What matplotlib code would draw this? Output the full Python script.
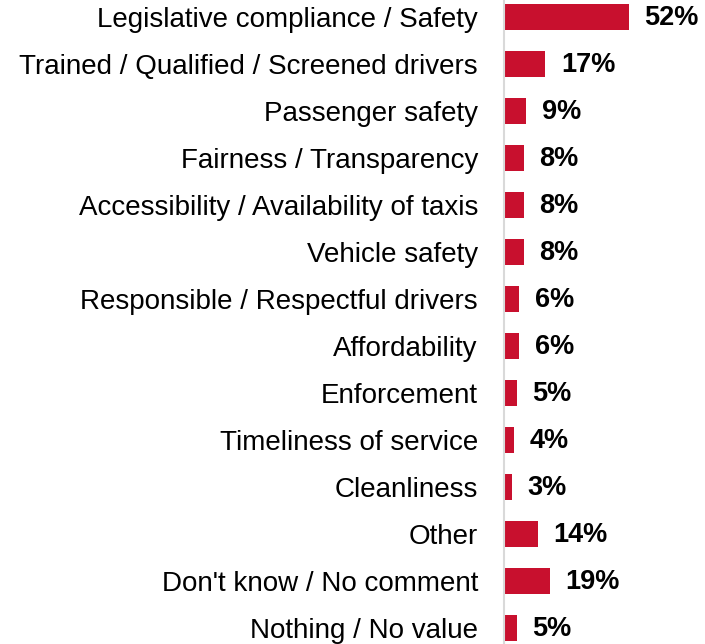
import matplotlib.pyplot as plt

# Response categories and share of respondents (%)
categories = [
    "Legislative compliance / Safety",
    "Trained / Qualified / Screened drivers",
    "Passenger safety",
    "Fairness / Transparency",
    "Accessibility / Availability of taxis",
    "Vehicle safety",
    "Responsible / Respectful drivers",
    "Affordability",
    "Enforcement",
    "Timeliness of service",
    "Cleanliness",
    "Other",
    "Don't know / No comment",
    "Nothing / No value",
]
values = [52, 17, 9, 8, 8, 8, 6, 6, 5, 4, 3, 14, 19, 5]
value_labels = [str(v) + "%" for v in values]

plt.rcParams['font.family'] = ['Liberation Sans', 'DejaVu Sans']

fig = plt.figure(figsize=(7.05, 6.44), dpi=100)
ax = fig.add_axes([504 / 705, 0, 201 / 705, 1])

pos = list(range(len(categories)))
ax.barh(pos, values, height=0.55, color='#C8102E', left=0.3)

for p, v, lab in zip(pos, values, value_labels):
    ax.text(v + 0.3 + 6.5, p + 0.03, lab, va='center', ha='left',
            fontsize=19.5, fontweight='bold', color='black')

ax.set_xlim(0, 201 / 2.385)
ax.set_ylim(13 + 16 / 47, -17 / 47)

ax.set_yticks(pos)
ax.set_yticklabels(categories, fontsize=20, color='black')
ax.tick_params(axis='y', length=0, pad=18.8)
ax.set_xticks([])

for s in ['top', 'right', 'bottom']:
    ax.spines[s].set_visible(False)
ax.spines['left'].set_color('#d9d9d9')
ax.spines['left'].set_linewidth(1.5)

fig.savefig('out.png', dpi=100)
